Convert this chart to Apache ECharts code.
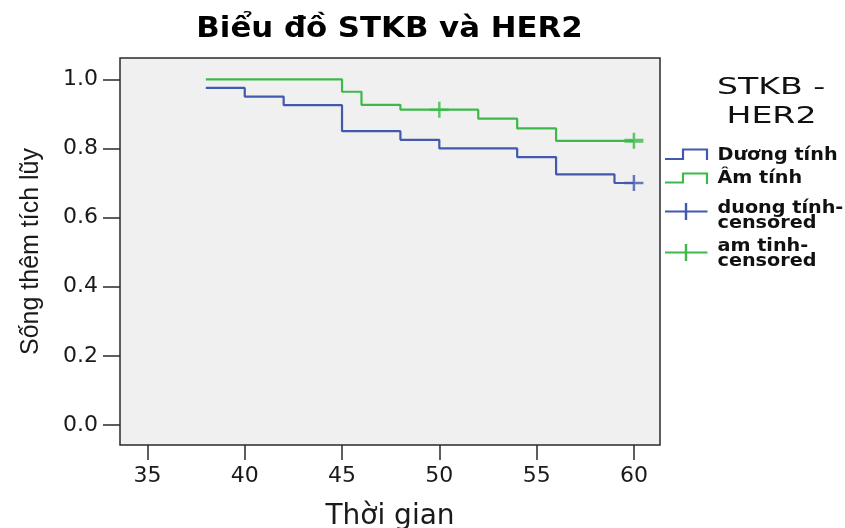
<!DOCTYPE html>
<html><head><meta charset="utf-8">
<script src="https://cdn.jsdelivr.net/npm/echarts@6/dist/echarts.min.js"></script>
<style>html,body{margin:0;padding:0;background:#fff}#c{width:845px;height:528px}</style>
</head><body><div id="c"></div>
<script>
// ---- texts ----
const titleText = 'Biểu đồ STKB và HER2';
const xName = 'Thời gian';
const yName = 'Sống thêm tích lũy';
const legendTitleLines = ['STKB -', 'HER2'];
const seriesNames = ['Dương tính', 'Âm tính', 'duong tính-\ncensored', 'am tinh-\ncensored'];
// ---- ticks ----
const xTicks = [35, 40, 45, 50, 55, 60];
const yTicks = [0, 0.2, 0.4, 0.6, 0.8, 1.0];
// ---- data (Kaplan-Meier steps) ----
const posTimes = [38, 40, 42, 45, 48, 50, 54, 56, 59, 60];
const posSurv  = [0.975, 0.95, 0.925, 0.85, 0.825, 0.80, 0.775, 0.725, 0.70, 0.70];
const negTimes = [38, 45, 46, 48, 52, 54, 56, 60];
const negSurv  = [1.0, 0.964, 0.926, 0.912, 0.886, 0.858, 0.822, 0.822];
const posCensTimes = [60];
const posCensSurv  = [0.70];
const negCensTimes = [50, 60];
const negCensSurv  = [0.912, 0.822];

const C_POS = '#4259ad';
const C_NEG = '#3cb94a';
const PLUS = 'path://M8.25,0H10.75V6.75H19V9.25H10.75V16H8.25V9.25H0V6.75H8.25Z';
const PLUS_THICK = 'path://M8.25,0H10.75V6H19V10H10.75V16H8.25V10H0V6H8.25Z';

const zip = (a, b) => a.map((t, i) => [t, b[i]]);

const chart = echarts.init(document.getElementById('c'), null, {renderer: 'canvas'});

function label(x, y, text, o) {
  return {
    type: 'text', x: x, y: y, scaleX: o.scaleX || 1, silent: true,
    style: {
      text: text, fill: o.fill || '#111',
      fontSize: o.fontSize, fontFamily: o.fontFamily || 'DejaVu Sans',
      fontWeight: o.fontWeight || 'normal',
      align: o.align || 'left', verticalAlign: 'middle',
      lineHeight: o.lineHeight || o.fontSize
    }
  };
}

const LX0 = 665, LX1 = 707.5, LT = 717.5;
const graphics = [
  label(389.5, 30, titleText, {fontSize: 27.5, fontWeight: 'bold', align: 'center', scaleX: 1.12, fill: '#000'}),
  label(771, 88.3, legendTitleLines[0], {fontSize: 23, align: 'center', scaleX: 1.44}),
  label(771.5, 116.7, legendTitleLines[1], {fontSize: 23, align: 'center', scaleX: 1.44}),
  // item 1 icon (step)
  {type: 'polyline', silent: true, shape: {points: [[LX0, 159], [683, 159], [683, 149.5], [707, 149.5], [707, 160]]},
   style: {stroke: C_POS, lineWidth: 2.2, fill: null}},
  label(LT, 156, seriesNames[0], {fontSize: 17, fontWeight: 'bold', scaleX: 1.13}),
  // item 2 icon (step)
  {type: 'polyline', silent: true, shape: {points: [[LX0, 182.5], [683, 182.5], [683, 173.5], [707, 173.5], [707, 184]]},
   style: {stroke: C_NEG, lineWidth: 2.2, fill: null}},
  label(LT, 179, seriesNames[1], {fontSize: 17, fontWeight: 'bold', scaleX: 1.13}),
  // item 3 icon (censored)
  {type: 'line', silent: true, shape: {x1: LX0, y1: 211.5, x2: LX1, y2: 211.5}, style: {stroke: C_POS, lineWidth: 2.2}},
  {type: 'line', silent: true, shape: {x1: 686, y1: 203, x2: 686, y2: 220}, style: {stroke: C_POS, lineWidth: 2.4}},
  label(LT, 216.2, seriesNames[2], {fontSize: 17, fontWeight: 'bold', scaleX: 1.13, lineHeight: 15.5}),
  // item 4 icon (censored)
  {type: 'line', silent: true, shape: {x1: LX0, y1: 252.5, x2: LX1, y2: 252.5}, style: {stroke: C_NEG, lineWidth: 2.2}},
  {type: 'line', silent: true, shape: {x1: 686, y1: 244, x2: 686, y2: 261}, style: {stroke: C_NEG, lineWidth: 2.4}},
  label(LT, 254.2, seriesNames[3], {fontSize: 17, fontWeight: 'bold', scaleX: 1.13, lineHeight: 15.5})
];

const option = {
  animation: false,
  backgroundColor: '#ffffff',
  grid: {
    left: 120, right: 185, top: 58, bottom: 83,
    outerBoundsMode: 'none', containLabel: false,
    show: true, backgroundColor: '#f0f0f0', borderColor: '#2a2a2a', borderWidth: 1.5
  },
  xAxis: {
    type: 'value', min: 33.59, max: 61.34,
    axisLine: {show: false, onZero: false},
    splitLine: {show: false},
    axisTick: {show: true, customValues: xTicks, length: 15, lineStyle: {color: '#2a2a2a', width: 1.5}},
    axisLabel: {customValues: xTicks, fontSize: 22, fontFamily: 'DejaVu Sans', color: '#1a1a1a', margin: 20},
    name: xName, nameLocation: 'middle', nameGap: 58,
    nameTextStyle: {fontSize: 28, fontFamily: 'DejaVu Sans', color: '#1a1a1a'}
  },
  yAxis: {
    type: 'value', min: -0.058, max: 1.0616,
    axisLine: {show: false, onZero: false},
    splitLine: {show: false},
    axisTick: {show: true, customValues: yTicks, length: 17, lineStyle: {color: '#2a2a2a', width: 1.5}},
    axisLabel: {customValues: yTicks, fontSize: 22, fontFamily: 'DejaVu Sans', color: '#1a1a1a', margin: 22,
                formatter: v => v.toFixed(1)},
    name: yName, nameLocation: 'middle', nameRotate: 90, nameGap: 76,
    nameTextStyle: {fontSize: 25, fontFamily: 'Liberation Sans', color: '#1a1a1a'}
  },
  series: [
    {name: seriesNames[0], type: 'line', step: 'end', data: zip(posTimes, posSurv),
     showSymbol: false, symbol: 'none', lineStyle: {color: C_POS, width: 2.2}, itemStyle: {color: C_POS}, silent: true, z: 3},
    {name: seriesNames[1], type: 'line', step: 'end', data: zip(negTimes, negSurv),
     showSymbol: false, symbol: 'none', lineStyle: {color: C_NEG, width: 2.2}, itemStyle: {color: C_NEG}, silent: true, z: 3},
    {name: seriesNames[2], type: 'scatter', data: zip(posCensTimes, posCensSurv),
     symbol: PLUS, symbolSize: [19, 16], itemStyle: {color: C_POS}, silent: true, z: 4},
    {name: seriesNames[3], type: 'scatter',
     data: zip(negCensTimes, negCensSurv).map((p, i) => i === negCensTimes.length - 1 ? {value: p, symbol: PLUS_THICK} : p),
     symbol: PLUS, symbolSize: [19, 16], itemStyle: {color: C_NEG}, silent: true, z: 4}
  ],
  graphic: graphics
};
chart.setOption(option);
</script>
</body></html>
